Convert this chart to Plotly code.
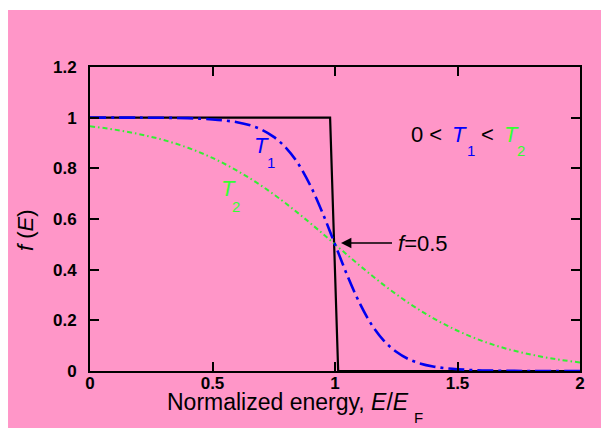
import plotly.graph_objects as go

# ---- data ----
E_T0 = [0.0, 0.98, 1.013, 2.0]
f_T0 = [1.0, 1.0, 0.0, 0.0]

E_T1 = [0.0, 0.2, 0.4, 0.5, 0.55, 0.6, 0.65, 0.7, 0.75, 0.8, 0.85, 0.9, 0.95, 1.0,
        1.05, 1.1, 1.15, 1.2, 1.25, 1.3, 1.35, 1.4, 1.45, 1.5, 1.6, 1.7, 1.8, 2.0]
f_T1 = [1.000, 1.000, 0.998, 0.993, 0.989, 0.982, 0.971, 0.953, 0.924, 0.881, 0.818, 0.731, 0.622, 0.500,
        0.378, 0.269, 0.182, 0.119, 0.076, 0.047, 0.029, 0.018, 0.011, 0.007, 0.002, 0.001, 0.000, 0.000]

E_T2 = [0.0, 0.1, 0.2, 0.3, 0.4, 0.5, 0.6, 0.7, 0.8, 0.9, 1.0,
        1.1, 1.2, 1.3, 1.4, 1.5, 1.6, 1.7, 1.8, 1.9, 2.0]
f_T2 = [0.966, 0.953, 0.935, 0.912, 0.881, 0.841, 0.791, 0.731, 0.661, 0.583, 0.500,
        0.417, 0.339, 0.269, 0.209, 0.159, 0.119, 0.088, 0.065, 0.047, 0.034]

x_ticks = [0, 0.5, 1, 1.5, 2]
x_ticklabels = ["0", "0.5", "1", "1.5", "2"]
y_ticks = [0, 0.2, 0.4, 0.6, 0.8, 1.0, 1.2]
y_ticklabels = ["0", "0.2", "0.4", "0.6", "0.8", "1", "1.2"]

PINK = "#FF96C8"
BLUE = "#0000F0"
GREEN = "#33EE33"
FONT = "Liberation Sans, Arial, sans-serif"

fig = go.Figure()
fig.add_trace(go.Scatter(x=E_T0, y=f_T0, mode="lines",
                         line=dict(color="black", width=2.2)))
fig.add_trace(go.Scatter(x=E_T2, y=f_T2, mode="lines", line_shape="spline",
                         line=dict(color=GREEN, width=2, dash="5px,3px,1.5px,3px")))
fig.add_trace(go.Scatter(x=E_T1, y=f_T1, mode="lines", line_shape="spline",
                         line=dict(color=BLUE, width=2.6, dash="16px,5px,3px,5px")))

axis_common = dict(showline=True, linecolor="black", linewidth=2, mirror="ticks",
                   ticks="inside", ticklen=9, tickwidth=2, tickcolor="black",
                   showgrid=False, zeroline=False,
                   tickfont=dict(family=FONT, size=17, color="black", weight="bold"))

fig.update_xaxes(range=[0, 2], tickvals=x_ticks, ticktext=x_ticklabels,
                 ticklabelstandoff=-4, **axis_common)
fig.update_yaxes(range=[0, 1.2], tickvals=y_ticks, ticktext=y_ticklabels,
                 ticklabelstandoff=8, **axis_common)

def ann(text, x, y, size=22, color="black", xref="x", yref="y", **kw):
    d = dict(text=text, x=x, y=y, xref=xref, yref=yref, showarrow=False,
             xanchor="left", yanchor="middle", borderpad=0, borderwidth=0,
             font=dict(family=FONT, size=size, color=color))
    d.update(kw)
    return d

annotations = [
    # 0 < T1 < T2
    ann("0 <", 1.310, 0.9355),
    ann("<i>T</i>", 1.478, 0.9355, color="#0000FF"),
    ann("1", 1.539, 0.870, size=15, color="#0000FF"),
    ann("<", 1.596, 0.9355),
    ann("<i>T</i>", 1.690, 0.9355, color="#33FF33"),
    ann("2", 1.743, 0.870, size=15, color="#33FF33"),
    # curve labels
    ann("<i>T</i>", 0.669, 0.892, color="#0000FF"),
    ann("1", 0.722, 0.823, size=15, color="#0000FF"),
    ann("<i>T</i>", 0.535, 0.720, color="#33FF33"),
    ann("2", 0.580, 0.649, size=15, color="#33FF33"),
    # axis titles
    ann("Normalized energy, <i>E</i>/<i>E</i>", 0.157, -0.102, size=23, xref="paper", yref="paper"),
    ann("F", 0.661, -0.1546, size=15, xref="paper", yref="paper"),
    ann("<i>f</i> (<i>E</i>)", -0.1327, 0.4638, xref="paper", yref="paper",
        xanchor="center", textangle=-90),
    # f = 0.5 with arrow
    dict(text="<i>f</i>=0.5", x=1.0245, y=0.505, xref="x", yref="y",
         showarrow=True, ax=55, ay=0, axref="pixel", ayref="pixel",
         xanchor="left", yanchor="middle", borderpad=2, borderwidth=0,
         startstandoff=4, arrowhead=2, arrowsize=1.3, arrowwidth=1.6,
         arrowcolor="black", font=dict(family=FONT, size=22, color="black")),
]

fig.update_layout(
    width=601, height=428,
    margin=dict(l=90, r=21, t=67, b=57),
    paper_bgcolor="white", plot_bgcolor=PINK,
    showlegend=False, hovermode=False,
    annotations=annotations,
    shapes=[dict(type="rect", xref="paper", yref="paper",
                 x0=-0.1673, x1=1.05, y0=-0.2, y1=1.1875,
                 fillcolor=PINK, line=dict(width=0), layer="below")],
)

fig.write_html("out.html")
